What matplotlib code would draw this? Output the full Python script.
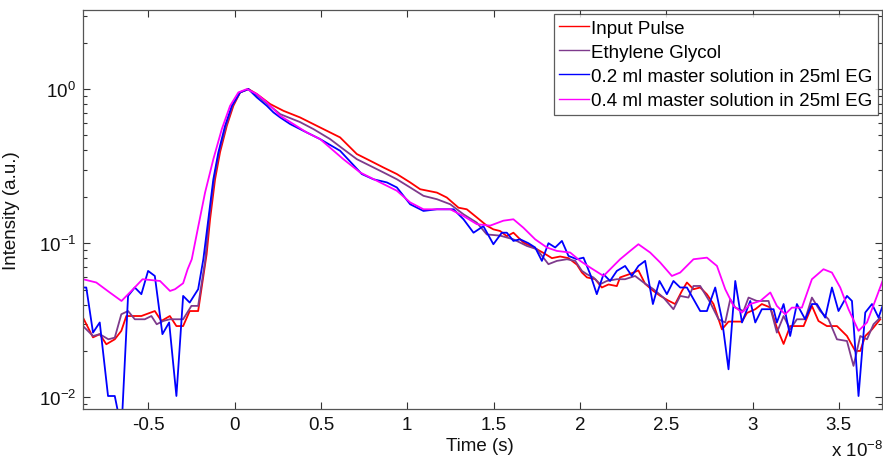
import matplotlib
matplotlib.use("Agg")
import matplotlib.pyplot as plt
from matplotlib.ticker import NullFormatter, LogLocator

plt.rcParams["font.family"] = ["Liberation Sans", "DejaVu Sans"]
plt.rcParams["mathtext.default"] = "regular"

# time axis in units of 1e-8 s
input_t = [-0.878, -0.820, -0.781, -0.743, -0.694, -0.656, -0.627, -0.540, -0.462, -0.424,
           -0.375, -0.337, -0.298, -0.260, -0.211, -0.162, -0.142, -0.113, -0.084, -0.045,
           -0.007, 0.032, 0.080, 0.129, 0.206, 0.283, 0.379, 0.495, 0.611, 0.708,
           0.785, 0.862, 0.940, 1.017, 1.075, 1.172, 1.229, 1.297, 1.345, 1.403,
           1.461, 1.499, 1.538, 1.577, 1.615, 1.673, 1.731, 1.789, 1.838, 1.886,
           1.934, 1.983, 2.012, 2.041, 2.089, 2.127, 2.166, 2.214, 2.233, 2.291,
           2.339, 2.378, 2.426, 2.465, 2.513, 2.552, 2.591, 2.620, 2.658, 2.697,
           2.736, 2.774, 2.823, 2.861, 2.939, 2.968, 3.016, 3.054, 3.103, 3.141,
           3.180, 3.218, 3.296, 3.344, 3.382, 3.431, 3.489, 3.547, 3.595, 3.624,
           3.653, 3.692, 3.740]
input_i = [0.0329, 0.0245, 0.0257, 0.0221, 0.0238, 0.0270, 0.0337, 0.0337, 0.0363, 0.0313,
           0.0337, 0.0290, 0.0290, 0.0363, 0.0363, 0.0848, 0.143, 0.260, 0.390, 0.578,
           0.779, 0.952, 1.0, 0.929, 0.800, 0.723, 0.655, 0.564, 0.486, 0.379,
           0.343, 0.310, 0.281, 0.248, 0.224, 0.213, 0.198, 0.170, 0.166, 0.147,
           0.130, 0.123, 0.120, 0.111, 0.117, 0.101, 0.094, 0.0865, 0.080, 0.082,
           0.080, 0.0726, 0.0645, 0.060, 0.0584, 0.0516, 0.054, 0.0527, 0.060, 0.0632,
           0.0666, 0.0545, 0.049, 0.0456, 0.0424, 0.0403, 0.049, 0.0556, 0.0503, 0.0516,
           0.0466, 0.0403, 0.0276, 0.031, 0.031, 0.0353, 0.0373, 0.0403, 0.0383, 0.0283,
           0.0222, 0.029, 0.029, 0.0392, 0.0313, 0.029, 0.029, 0.025, 0.020, 0.020,
           0.025, 0.0276, 0.0321]

eg_t = [-0.878, -0.820, -0.781, -0.731, -0.694, -0.656, -0.617, -0.578, -0.520, -0.482,
        -0.451, -0.413, -0.375, -0.298, -0.250, -0.211, -0.171, -0.148, -0.119, -0.090,
        -0.049, -0.012, 0.032, 0.080, 0.129, 0.206, 0.264, 0.379, 0.457, 0.553,
        0.630, 0.708, 0.785, 0.862, 0.940, 1.017, 1.094, 1.172, 1.249, 1.326,
        1.403, 1.461, 1.538, 1.615, 1.693, 1.751, 1.818, 1.867, 1.925, 1.973,
        2.012, 2.041, 2.079, 2.118, 2.156, 2.214, 2.262, 2.320, 2.369, 2.426,
        2.484, 2.542, 2.581, 2.629, 2.658, 2.697, 2.755, 2.803, 2.842, 2.871,
        2.900, 2.948, 2.977, 3.025, 3.093, 3.141, 3.180, 3.218, 3.257, 3.305,
        3.344, 3.392, 3.440, 3.489, 3.547, 3.585, 3.624, 3.663, 3.701, 3.740]
eg_i = [0.0290, 0.0250, 0.0257, 0.0238, 0.0244, 0.0346, 0.0363, 0.0321, 0.0321, 0.0337,
        0.0298, 0.0313, 0.0321, 0.0321, 0.0392, 0.0392, 0.0764, 0.143, 0.260, 0.390,
        0.578, 0.779, 0.952, 1.0, 0.914, 0.776, 0.688, 0.611, 0.550, 0.474,
        0.408, 0.351, 0.318, 0.288, 0.260, 0.230, 0.203, 0.193, 0.179, 0.154,
        0.136, 0.114, 0.112, 0.106, 0.096, 0.0914, 0.0731, 0.0768, 0.0787, 0.0768,
        0.0661, 0.0629, 0.0599, 0.0542, 0.0569, 0.0584, 0.0584, 0.0613, 0.0556, 0.0503,
        0.0444, 0.0373, 0.0455, 0.0444, 0.0528, 0.0528, 0.0412, 0.0321, 0.0306, 0.0433,
        0.0382, 0.0363, 0.0444, 0.0422, 0.0422, 0.0263, 0.0337, 0.0276, 0.0321, 0.0321,
        0.0444, 0.0363, 0.0321, 0.0238, 0.0232, 0.0160, 0.0250, 0.0238, 0.0298, 0.0329]

sol02_t = [-0.878, -0.859, -0.820, -0.781, -0.733, -0.694, -0.655, -0.617, -0.578, -0.540,
           -0.501, -0.462, -0.418, -0.379, -0.337, -0.298, -0.260, -0.211, -0.181, -0.152,
           -0.123, -0.094, -0.055, -0.016, 0.032, 0.080, 0.129, 0.187, 0.225, 0.264,
           0.322, 0.399, 0.495, 0.611, 0.737, 0.804, 0.882, 0.940, 1.017, 1.094,
           1.172, 1.268, 1.326, 1.384, 1.441, 1.499, 1.548, 1.577, 1.615, 1.654,
           1.702, 1.741, 1.780, 1.818, 1.857, 1.896, 1.934, 1.983, 2.021, 2.060,
           2.098, 2.137, 2.175, 2.214, 2.262, 2.301, 2.339, 2.378, 2.423, 2.461,
           2.504, 2.542, 2.581, 2.620, 2.697, 2.736, 2.784, 2.823, 2.861, 2.900,
           2.939, 2.987, 3.016, 3.054, 3.122, 3.141, 3.180, 3.218, 3.257, 3.305,
           3.344, 3.373, 3.421, 3.460, 3.498, 3.547, 3.576, 3.614, 3.653, 3.692,
           3.730, 3.757]
sol02_i = [0.0516, 0.0516, 0.0263, 0.0306, 0.0102, 0.0102, 0.0062, 0.0455, 0.0516, 0.0467,
           0.0661, 0.0613, 0.0257, 0.0306, 0.0102, 0.0455, 0.0412, 0.0503, 0.0787, 0.143,
           0.260, 0.388, 0.578, 0.779, 0.952, 1.0, 0.883, 0.779, 0.706, 0.655,
           0.593, 0.536, 0.474, 0.398, 0.281, 0.260, 0.248, 0.230, 0.179, 0.162,
           0.166, 0.166, 0.143, 0.117, 0.129, 0.0985, 0.117, 0.117, 0.1035, 0.106,
           0.100, 0.0938, 0.0768, 0.100, 0.0938, 0.1035, 0.0827, 0.0787, 0.0806, 0.0629,
           0.0467, 0.0629, 0.0569, 0.0661, 0.0712, 0.0613, 0.0712, 0.0768, 0.0403, 0.0569,
           0.0467, 0.0569, 0.0516, 0.0516, 0.0363, 0.0363, 0.0516, 0.0321, 0.0152, 0.0569,
           0.0306, 0.0422, 0.0306, 0.0373, 0.0373, 0.0306, 0.0403, 0.0250, 0.0403, 0.0321,
           0.0403, 0.0403, 0.0329, 0.0516, 0.0363, 0.0455, 0.0422, 0.0102, 0.0355, 0.0403,
           0.0329, 0.0403]

sol04_t = [-0.878, -0.801, -0.723, -0.655, -0.588, -0.533, -0.432, -0.374, -0.345, -0.298,
           -0.272, -0.248, -0.210, -0.171, -0.123, -0.074, -0.026, 0.022, 0.071, 0.129,
           0.187, 0.264, 0.341, 0.418, 0.495, 0.630, 0.727, 0.843, 0.940, 1.017,
           1.094, 1.249, 1.326, 1.403, 1.480, 1.557, 1.615, 1.673, 1.741, 1.809,
           1.867, 1.944, 2.002, 2.060, 2.137, 2.185, 2.233, 2.291, 2.339, 2.407,
           2.465, 2.533, 2.581, 2.658, 2.736, 2.794, 2.842, 2.890, 2.939, 2.987,
           3.045, 3.103, 3.141, 3.189, 3.228, 3.286, 3.344, 3.411, 3.460, 3.508,
           3.556, 3.614, 3.663, 3.721, 3.757]
sol04_i = [0.0584, 0.0556, 0.0479, 0.0422, 0.0503, 0.0584, 0.0569, 0.0490, 0.0503, 0.055,
           0.0678, 0.0787, 0.129, 0.213, 0.351, 0.550, 0.779, 0.952, 1.0, 0.929,
           0.820, 0.671, 0.593, 0.523, 0.474, 0.351, 0.288, 0.248, 0.219, 0.184,
           0.166, 0.166, 0.150, 0.133, 0.130, 0.140, 0.143, 0.126, 0.106, 0.0938,
           0.0891, 0.0870, 0.0768, 0.0695, 0.0613, 0.0695, 0.0787, 0.0891, 0.0985, 0.0870,
           0.0750, 0.0613, 0.0645, 0.0787, 0.0806, 0.0712, 0.0503, 0.0392, 0.0355, 0.0403,
           0.0422, 0.0479, 0.0392, 0.0346, 0.0382, 0.0382, 0.0584, 0.0678, 0.0645, 0.0516,
           0.0373, 0.0270, 0.0306, 0.0455, 0.0584]

labels = ["Input Pulse", "Ethylene Glycol",
          "0.2 ml master solution in 25ml EG", "0.4 ml master solution in 25ml EG"]
colors = ["#ff0000", "#7e3a8c", "#0000ff", "#ff00ff"]
xticks = [-0.5, 0, 0.5, 1, 1.5, 2, 2.5, 3, 3.5]

fig = plt.figure(figsize=(8.83, 4.60), dpi=100)
ax = fig.add_axes([83 / 883, 50 / 460, 799 / 883, 399 / 460])

series = [(input_t, input_i), (eg_t, eg_i), (sol02_t, sol02_i), (sol04_t, sol04_i)]
for (t, i), lab, c in zip(series, labels, colors):
    ax.plot(t, i, color=c, lw=1.3, label=lab)

ax.set_yscale("log")
ax.set_xlim(-0.878, 3.75)
ax.set_ylim(0.0084, 3.26)
ax.set_xticks(xticks)
ax.set_xticklabels([f"{v:g}" for v in xticks])
ax.yaxis.set_minor_locator(LogLocator(base=10, subs=range(2, 10), numticks=20))
ax.yaxis.set_minor_formatter(NullFormatter())

fs = 13.5
ax.tick_params(which="both", direction="in", top=True, right=True,
               labelsize=fs, colors="#333333", labelcolor="#111111")
ax.tick_params(which="major", length=5, width=0.8, pad=5)
ax.tick_params(which="minor", length=3, width=0.8)
for sp in ax.spines.values():
    sp.set_color("#555555")
    sp.set_linewidth(0.9)

ax.set_xlabel("Time (s)", fontsize=fs, color="#111111")
ax.xaxis.set_label_coords(0.497, -0.07)
ax.set_ylabel("Intensity (a.u.)", fontsize=fs, color="#111111")
ax.yaxis.set_label_coords(-0.079, 0.5)

fig.text(883 / 883, 3 / 460, "x 10$^{-8}$", fontsize=fs, ha="right", va="baseline",
         color="#111111")

leg = ax.legend(loc="upper right", fontsize=fs, frameon=True, fancybox=False,
                borderaxespad=0.2, handlelength=1.6, handletextpad=0.1,
                labelspacing=0.38, borderpad=0.3)
leg.get_frame().set_edgecolor("#333333")
leg.get_frame().set_linewidth(0.9)
for line in leg.get_lines():
    line.set_linewidth(1.0)

fig.savefig("out.png", dpi=100)
plt.close(fig)
